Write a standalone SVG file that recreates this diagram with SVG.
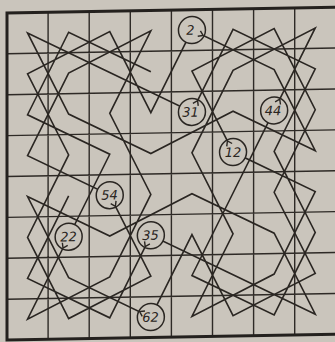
<svg xmlns="http://www.w3.org/2000/svg" width="335" height="342" viewBox="0 0 335 342">
<defs>
<style>
.grid{stroke:#2e2a26;stroke-width:1.4;fill:none}
.border{stroke:#24211e;stroke-width:3;fill:none}
.tour{stroke:#2a2622;stroke-width:1.6;fill:none;stroke-linejoin:miter}
.node circle{fill:#cac5bc;stroke:#2a2622;stroke-width:1.5}
.node text{font-family:"DejaVu Sans",sans-serif;font-style:italic;font-size:13px;fill:#2a2622;text-anchor:middle}
.arr{stroke:none;fill:none;marker-end:url(#ah)}
</style>
<marker id="ah" markerUnits="userSpaceOnUse" markerWidth="10" markerHeight="10" refX="0" refY="0" orient="auto" overflow="visible">
<path d="M-4.5,-3 L0,0 L-4.5,3" fill="none" stroke="#2a2622" stroke-width="1.4"/>
</marker>
</defs>
<rect x="0" y="0" width="335" height="342" fill="#cac5bc"/>
<g transform="skewY(-1)">
<g id="board">
<path class="grid" d="M48.1,13V340.2M89.2,13V340.2M130.3,13V340.2M171.4,13V340.2M212.5,13V340.2M253.6,13V340.2M294.7,13V340.2M7,53.9H336M7,94.8H336M7,135.7H336M7,176.6H336M7,217.5H336M7,258.4H336M7,299.3H336"/>
<path class="border" d="M337,13H7V340.2H337"/>
</g>
<g id="connectors">
<polyline class="tour" points="150.85,74.35 68.65,33.45 27.55,115.25 109.75,156.15 68.65,237.95 27.55,319.75 109.75,278.85 150.85,197.05 109.75,115.25 150.85,33.45 68.65,74.35 27.55,156.15 109.75,197.05 150.85,278.85 68.65,319.75 27.55,237.95 68.65,156.15 27.55,74.35 109.75,33.45 150.85,115.25 191.95,33.45 274.15,74.35 315.25,156.15 233.05,115.25 150.85,156.15 68.65,115.25 27.55,33.45 109.75,74.35 191.95,115.25 233.05,33.45 315.25,74.35 274.15,156.15 315.25,237.95 274.15,319.75 191.95,278.85 233.05,197.05 274.15,115.25 315.25,33.45 233.05,74.35 191.95,156.15 233.05,237.95 191.95,319.75 274.15,278.85 315.25,197.05 233.05,156.15 191.95,74.35 274.15,33.45 315.25,115.25 274.15,197.05 315.25,278.85 233.05,319.75 191.95,237.95 150.85,319.75 68.65,278.85 27.55,197.05 109.75,237.95 191.95,197.05 274.15,237.95 315.25,319.75 233.05,278.85 150.85,237.95 109.75,319.75 27.55,278.85 68.65,197.05"/>
</g>
<g id="n2" class="node"><circle cx="191.95" cy="33.45" r="13.5"/><text x="190.5" y="38">2</text></g>
<g id="n31" class="node"><circle cx="191.95" cy="115.25" r="13.5"/><text x="190.5" y="120">31</text></g>
<g id="n44" class="node"><circle cx="274.15" cy="115.25" r="13.5"/><text x="273" y="120">44</text></g>
<g id="n12" class="node"><circle cx="233.05" cy="156.15" r="13.5"/><text x="233" y="161">12</text></g>
<g id="n54" class="node"><circle cx="109.75" cy="197.05" r="13.5"/><text x="109.5" y="201.5">54</text></g>
<g id="n22" class="node"><circle cx="68.65" cy="237.95" r="13.5"/><text x="68.5" y="242.5">22</text></g>
<g id="n35" class="node"><circle cx="150.85" cy="237.95" r="13.5"/><text x="150.5" y="242.5">35</text></g>
<g id="n62" class="node"><circle cx="150.85" cy="319.75" r="13.5"/><text x="150.5" y="324.5">62</text></g>
<g id="arrows">
<path class="arr" d="M197.3,36.1L203.1,39.0"/>
<path class="arr" d="M194.6,109.9L197.6,104.0"/>
<path class="arr" d="M276.8,109.9L279.8,104.0"/>
<path class="arr" d="M230.4,150.8L227.4,144.9"/>
<path class="arr" d="M112.4,202.4L115.4,208.3"/>
<path class="arr" d="M66.0,243.3L63.0,249.2"/>
<path class="arr" d="M148.2,243.3L145.2,249.2"/>
<path class="arr" d="M145.5,317.1L139.6,314.1"/>
</g>
</g>
</svg>
